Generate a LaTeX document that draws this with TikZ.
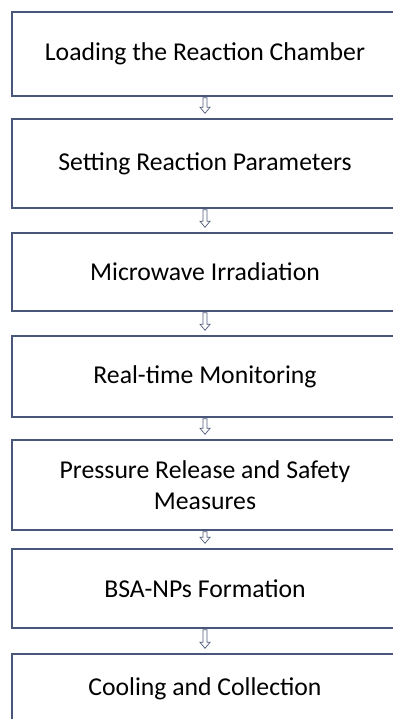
\documentclass[tikz,border=0pt]{standalone}
\usepackage{fontspec}
\setmainfont{Carlito}
\usetikzlibrary{calc}

\definecolor{boxblue}{RGB}{72,86,122}
\definecolor{arrowblue}{RGB}{80,92,124}

\begin{document}
\begin{tikzpicture}[x=1pt, y=-1pt,
	stage/.style={draw=boxblue, line width=1.4pt, minimum width=386pt, inner sep=0pt,
		align=center, text=black, font=\fontsize{25.7}{31}\selectfont},
	% hollow down arrow between two stages
	flow/.style={draw=arrowblue, fill=white, line width=0.7pt, line join=miter,
		to path={let \p1=(\tikztostart), \p2=(\tikztotarget) in
			({\x1-2pt},{\y1-1pt}) -- ({\x1-2pt},{\y2+11pt}) -- ({\x1-5pt},{\y2+11pt})
			-- (\x1,{\y2+5pt}) -- ({\x1+5pt},{\y2+11pt}) -- ({\x1+2pt},{\y2+11pt})
			-- ({\x1+2pt},{\y1-1pt}) -- cycle}}]
	\useasboundingbox (0,0) rectangle (392,719);
	\node [stage, minimum height=84pt] (load) at (205,54) {Loading the Reaction Chamber};
	\node [stage, minimum height=89pt] (param) at (205,163.5) {Setting Reaction Parameters};
	\node [stage, minimum height=78pt] (micro) at (205,272) {Microwave Irradiation};
	\node [stage, minimum height=81pt] (monitor) at (205,376.5) {Real-time Monitoring};
	\node [stage, minimum height=90pt] (release) at (205,485) {Pressure Release and Safety\\Measures};
	\node [stage, minimum height=79pt] (form) at (205,588.5) {BSA-NPs Formation};
	\node [stage, minimum height=70pt] (cool) at (205,689) {Cooling and Collection};
	\draw [flow] (load.south) to (param.north);
	\draw [flow] (param.south) to (micro.north);
	\draw [flow] (micro.south) to (monitor.north);
	\draw [flow] (monitor.south) to (release.north);
	\draw [flow] (release.south) to (form.north);
	\draw [flow] (form.south) to (cool.north);
\end{tikzpicture}
\end{document}
